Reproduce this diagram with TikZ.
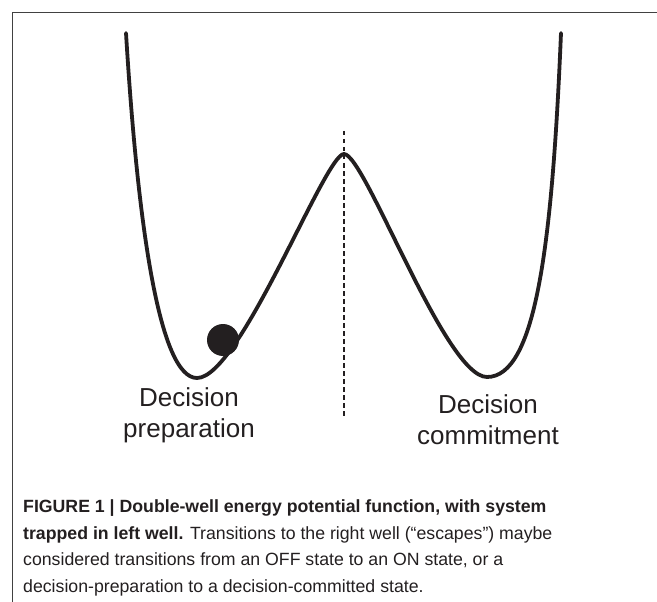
\documentclass[tikz,border=0pt]{standalone}
\usepackage{fontspec}
\setmainfont{Liberation Sans}
\usetikzlibrary{positioning}
\definecolor{inkBlack}{RGB}{35,31,32}
\definecolor{frameGray}{RGB}{65,65,65}
\tikzset{
  wellCurve/.style   = {draw=inkBlack, line width=3.8pt, line cap=round},
  barrierLine/.style = {draw=inkBlack, line width=2pt,
                        dash pattern=on 4.5pt off 3.5pt},
  frameLine/.style   = {draw=frameGray, line width=1.2pt},
  wellLabel/.style   = {text=inkBlack, font=\fontsize{26}{31}\selectfont,
                        align=center, inner sep=0pt},
  capText/.style     = {text=inkBlack, font=\fontsize{17.7}{26.5}\selectfont,
                        align=left, inner sep=0pt},
}
\begin{document}
\begin{tikzpicture}[x=1pt,y=-1pt]
  \useasboundingbox (0,0) rectangle (657,602);
  % frame of the figure
  \draw[frameLine] (12.5,602) -- (12.5,12.5) -- (657,12.5);
  % double-well potential
  \draw[wellCurve] (126,33) .. controls (138,230) and (160,378) .. (197,378)
    .. controls (240,378) and (325,154) .. (344,154)
    .. controls (365,154) and (445,377) .. (487,377)
    .. controls (535,377) and (552,250) .. (561,33);
  \coordinate (barrierTop) at (344,131);
  \coordinate (barrierBot) at (344,418);
  \draw[barrierLine] (barrierTop) -- (barrierBot);
  % the system, trapped in the left well
  \fill[inkBlack] (223,340) circle (16);
  % base of a two-line node = its last line
  \node[wellLabel, anchor=base] (prepLbl) at (189,437) {Decision\\preparation};
  \node[wellLabel, anchor=base] (commitLbl) at (488,444) {Decision\\commitment};
  % caption
  \node[capText, anchor=base west] (figCap) at (23,592)
    {\textbf{FIGURE 1 | Double-well energy potential function, with system}\\
     \textbf{trapped in left well.} Transitions to the right well (``escapes'') maybe\\
     considered transitions from an OFF state to an ON state, or a\\
     decision-preparation to a decision-committed state.};
\end{tikzpicture}
\end{document}
